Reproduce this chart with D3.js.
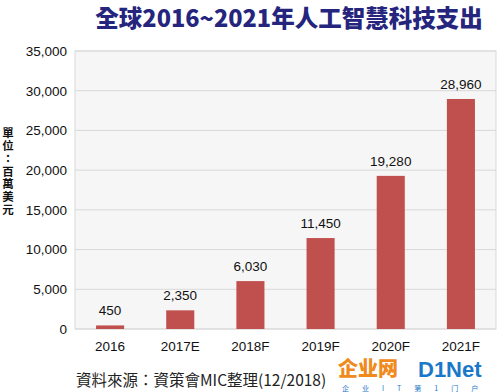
<!DOCTYPE html>
<html>
<head>
<meta charset="utf-8">
<script src="https://cdn.jsdelivr.net/npm/d3@7"></script>
<style>
  body { margin: 0; background: #fff; }
  text { font-family: "Liberation Sans", Arial, sans-serif; }
</style>
</head>
<body>
<div id="chart"></div>
<script>
var years = ["2016", "2017E", "2018F", "2019F", "2020F", "2021F"];
var spend = [450, 2350, 6030, 11450, 19280, 28960];
var yTicks = [0, 5000, 10000, 15000, 20000, 25000, 30000, 35000];
var unitLabel = "單位：百萬美元";

var W = 500, H = 392;
var margin = { top: 51, left: 75, right: 4, bottom: 63 },
    width = W - margin.left - margin.right,
    height = H - margin.top - margin.bottom;

var svg = d3.select("#chart").append("svg")
    .attr("width", W)
    .attr("height", H);

// title
svg.append("text")
    .attr("x", 289).attr("y", 27)
    .attr("text-anchor", "middle")
    .attr("fill", "#25257e")
    .attr("font-size", 23.5)
    .attr("font-weight", 900)
    .style("font-family", "'Noto Sans CJK TC', sans-serif")
    .text("全球2016~2021年人工智慧科技支出");

var g = svg.append("g")
    .attr("transform", "translate(" + margin.left + "," + margin.top + ")");

var x = d3.scaleBand().domain(years).range([0, width]).paddingInner(0.6).paddingOuter(0.3);
var y = d3.scaleLinear().domain([0, 35000]).range([height, 0]);

// plot background
g.append("rect")
    .attr("width", width).attr("height", height)
    .attr("fill", "#f6f6f6")
    .attr("stroke", "#d9d9d9");

// gridlines
g.selectAll(".grid")
    .data(yTicks)
    .enter().append("line")
    .attr("x1", 0).attr("x2", width)
    .attr("y1", function(d) { return y(d); })
    .attr("y2", function(d) { return y(d); })
    .attr("stroke", "#d9d9d9");

// y axis
var yAxis = g.append("g")
    .call(d3.axisLeft(y).tickValues(yTicks).tickFormat(d3.format(",")).tickSize(0).tickPadding(8));
yAxis.select(".domain").remove();
yAxis.selectAll("text").attr("font-size", 13.5).attr("fill", "#111")
    .style("font-family", "'Liberation Sans', Arial, sans-serif");

// x axis
var xAxis = g.append("g")
    .attr("transform", "translate(0," + height + ")")
    .call(d3.axisBottom(x).tickSize(0).tickPadding(12));
xAxis.select(".domain").remove();
xAxis.selectAll("text").attr("font-size", 13.5).attr("fill", "#111")
    .style("font-family", "'Liberation Sans', Arial, sans-serif");

// bars
g.selectAll(".bar")
    .data(spend)
    .enter().append("rect")
    .attr("class", "bar")
    .attr("x", function(d, i) { return x(years[i]); })
    .attr("width", x.bandwidth())
    .attr("y", function(d) { return y(d); })
    .attr("height", function(d) { return height - y(d); })
    .attr("fill", "#c0504d");

// value labels
g.selectAll(".val")
    .data(spend)
    .enter().append("text")
    .attr("x", function(d, i) { return x(years[i]) + x.bandwidth() / 2; })
    .attr("y", function(d) { return y(d) - 10; })
    .attr("text-anchor", "middle")
    .attr("font-size", 13.5)
    .attr("fill", "#111")
    .text(function(d) { return d3.format(",")(d); });

// unit label, written vertically
svg.append("text")
    .attr("x", 8)
    .attr("y", 127)
    .attr("font-size", 11.5)
    .attr("font-weight", "bold")
    .attr("fill", "#111")
    .attr("letter-spacing", 1.3)
    .style("writing-mode", "vertical-rl")
    .style("text-orientation", "upright")
    .style("font-family", "'Noto Sans CJK TC', sans-serif")
    .text(unitLabel);

// source
svg.append("text")
    .attr("x", 76).attr("y", 386)
    .attr("font-size", 15.5)
    .attr("fill", "#222")
    .style("font-family", "'Noto Sans CJK TC', sans-serif")
    .text("資料來源：資策會MIC整理(12/2018)");

// watermark
var wm = svg.append("g").attr("transform", "translate(338,366)");
wm.append("text")
    .attr("x", 0).attr("y", 10)
    .attr("font-size", 20).attr("font-weight", 900)
    .attr("fill", "#f08a1c")
    .style("font-family", "'Noto Sans CJK SC', sans-serif")
    .text("企业网");
wm.append("text")
    .attr("x", 80).attr("y", 11)
    .attr("font-size", 22).attr("font-weight", "bold")
    .attr("fill", "#1a78c8")
    .text("D1Net");
wm.append("text")
    .attr("x", 4).attr("y", 24.5)
    .attr("font-size", 7)
    .attr("letter-spacing", 13)
    .attr("fill", "#1a78c8")
    .style("font-family", "'Noto Sans CJK SC', sans-serif")
    .text("企业IT第1门户");
</script>
</body>
</html>
